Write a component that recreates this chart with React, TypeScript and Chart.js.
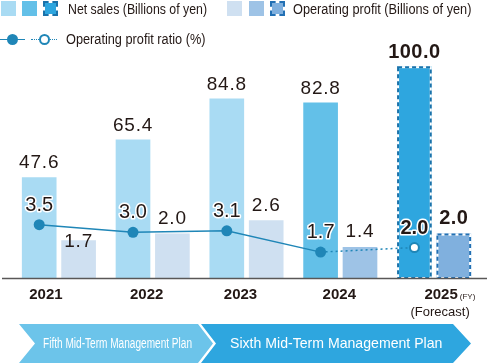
import React, { useEffect, useRef } from "react";
import { Chart, registerables } from "chart.js";

Chart.register(...registerables);

// ---- data ----
const years = ["2021", "2022", "2023", "2024", "2025"];
const netSales = [47.6, 65.4, 84.8, 82.8, 100.0];
const operatingProfit = [1.7, 2.0, 2.6, 1.4, 2.0];
const operatingProfitRatio = [3.5, 3.0, 3.1, 1.7, 2.0];
const forecastIndex = 4;
const legendLabels = [
  "Net sales (Billions of yen)",
  "Operating profit (Billions of yen)",
  "Operating profit ratio (%)",
];
const planLabels = ["Fifth Mid-Term Management Plan", "Sixth Mid-Term Management Plan"];
const fyNote = "(FY)";
const forecastNote = "(Forecast)";

// ---- style ----
const FONT = "'Liberation Sans', Arial, sans-serif";
const TEXT = "#231815";
const NET_COLORS = ["#a9dbf3", "#a9dbf3", "#a9dbf3", "#63c0e8", "#2ea6df"];
const OP_COLORS = ["#cfe0f1", "#cfe0f1", "#cfe0f1", "#9ec3e6", "#80b0de"];
const NET_DASH = "#1a72aa";
const OP_DASH = "#2270b4";
const LINE = "#1f86b7";
const CAT_PCT = 0.84;
const BAR_PCT = 0.88;
const X_LABEL_SHIFT = [-13, -6, -6, -1, 7];

const dashedBorder = (chart: any, dsIndex: number, color: string) => {
  const meta = chart.getDatasetMeta(dsIndex);
  const el = meta.data[forecastIndex];
  if (!el) return;
  const { x, y, base, width } = el.getProps(["x", "y", "base", "width"], true);
  const ctx = chart.ctx;
  const l = x - width / 2 + 1;
  const t = y + 1;
  const w = width - 2;
  const h = base - y - 1;
  ctx.save();
  ctx.lineWidth = 2;
  ctx.setLineDash([]);
  ctx.strokeStyle = "#ffffff";
  ctx.strokeRect(l, t, w, h);
  ctx.setLineDash([4, 3]);
  ctx.strokeStyle = color;
  ctx.strokeRect(l, t, w, h);
  ctx.restore();
};

const overlayPlugin = {
  id: "overlay",
  // the ratio points sit on the centre of each net-sales bar
  afterDatasetsUpdate(chart: any) {
    const netMeta = chart.getDatasetMeta(0);
    const lineMeta = chart.getDatasetMeta(2);
    lineMeta.data.forEach((pt: any, i: number) => {
      const bar = netMeta.data[i];
      if (bar) pt.x = bar.x;
    });
  },
  afterDatasetDraw(chart: any, args: any) {
    if (args.index === 0) dashedBorder(chart, 0, NET_DASH);
    if (args.index === 1) dashedBorder(chart, 1, OP_DASH);
  },
  afterDatasetsDraw(chart: any) {
    const ctx = chart.ctx;
    const area = chart.chartArea;
    const netMeta = chart.getDatasetMeta(0);
    const opMeta = chart.getDatasetMeta(1);
    const lineMeta = chart.getDatasetMeta(2);
    ctx.save();

    // axis line
    ctx.beginPath();
    ctx.strokeStyle = "#595757";
    ctx.lineWidth = 1.5;
    ctx.moveTo(area.left - 10, area.bottom + 0.5);
    ctx.lineTo(area.right + 6, area.bottom + 0.5);
    ctx.stroke();

    ctx.fillStyle = TEXT;
    ctx.textAlign = "center";
    ctx.textBaseline = "middle";

    // net sales labels
    netMeta.data.forEach((el: any, i: number) => {
      const f = i === forecastIndex;
      ctx.font = (f ? "bold 20px " : "19px ") + FONT;
      (ctx as any).letterSpacing = f ? "0.5px" : "0.8px";
      ctx.fillText(netSales[i].toFixed(1), el.x, el.y - 14);
    });
    // operating profit labels
    opMeta.data.forEach((el: any, i: number) => {
      const f = i === forecastIndex;
      ctx.font = (f ? "bold 20px " : "19px ") + FONT;
      (ctx as any).letterSpacing = f ? "0.5px" : "0.8px";
      const y = i === 0 ? el.y + 1 : el.y - 15;
      ctx.fillText(operatingProfit[i].toFixed(1), el.x, y);
    });
    // ratio labels
    lineMeta.data.forEach((el: any, i: number) => {
      const f = i === forecastIndex;
      ctx.font = (f ? "bold 20px " : "20px ") + FONT;
      (ctx as any).letterSpacing = "0px";
      const txt = operatingProfitRatio[i].toFixed(1);
      const y = el.y - 19.5;
      ctx.lineWidth = 3;
      ctx.lineJoin = "round";
      ctx.strokeStyle = "#ffffff";
      ctx.strokeText(txt, el.x, y);
      ctx.fillText(txt, el.x, y);
    });

    // x labels
    const xs = chart.scales.x;
    (ctx as any).letterSpacing = "0px";
    years.forEach((yr, i) => {
      const cx = xs.getPixelForValue(i) + X_LABEL_SHIFT[i];
      ctx.textAlign = "center";
      ctx.font = "bold 15px " + FONT;
      ctx.fillText(yr, cx, area.bottom + 17);
      if (i === forecastIndex) {
        const w = ctx.measureText(yr).width;
        ctx.textAlign = "left";
        ctx.font = "8px " + FONT;
        ctx.fillText(fyNote, cx + w / 2 + 2, area.bottom + 19);
        ctx.textAlign = "center";
        ctx.font = "13px " + FONT;
        ctx.fillText(forecastNote, cx - 1, area.bottom + 34);
      }
    });
    ctx.restore();
  },
};

export default function App() {
  const ref = useRef<HTMLCanvasElement>(null);

  useEffect(() => {
    const chart = new Chart(ref.current as HTMLCanvasElement, {
      type: "bar",
      data: {
        labels: years,
        datasets: [
          {
            type: "bar",
            label: legendLabels[0],
            data: netSales,
            backgroundColor: NET_COLORS,
            borderWidth: 0,
            yAxisID: "y",
            categoryPercentage: CAT_PCT,
            barPercentage: BAR_PCT,
            order: 1,
          } as any,
          {
            type: "bar",
            label: legendLabels[1],
            data: operatingProfit,
            backgroundColor: OP_COLORS,
            borderWidth: 0,
            yAxisID: "y2",
            categoryPercentage: CAT_PCT,
            barPercentage: BAR_PCT,
            order: 2,
          } as any,
          {
            type: "line",
            label: legendLabels[2],
            data: operatingProfitRatio,
            yAxisID: "y3",
            borderColor: LINE,
            borderWidth: 1.5,
            pointRadius: operatingProfitRatio.map((_, i) => (i === forecastIndex ? 4.5 : 5.5)),
            pointBorderWidth: operatingProfitRatio.map((_, i) => (i === forecastIndex ? 2 : 0)),
            pointBackgroundColor: operatingProfitRatio.map((_, i) => (i === forecastIndex ? "#ffffff" : LINE)),
            pointBorderColor: LINE,
            tension: 0,
            fill: false,
            segment: {
              borderDash: (c: any) => (c.p1DataIndex === forecastIndex ? [2, 3] : undefined),
            },
            order: 0,
          } as any,
        ],
      },
      options: {
        responsive: false,
        animation: false,
        devicePixelRatio: 1,
        events: [],
        layout: { padding: { left: 12, right: 7, top: 45, bottom: 85 } },
        plugins: { legend: { display: false }, tooltip: { enabled: false } },
        scales: {
          x: { type: "category", display: false, offset: true, grid: { display: false } },
          y: { type: "linear", display: false, min: 0, max: 110 },
          y2: { type: "linear", display: false, min: 0, max: 10.5 },
          y3: { type: "linear", display: false, min: 0, max: 15.3 },
        },
      } as any,
      plugins: [overlayPlugin],
    });
    return () => chart.destroy();
  }, []);

  const sq = (left: number, color: string, dashed?: string): React.CSSProperties => ({
    position: "absolute",
    left,
    top: 1,
    width: 15,
    height: 15,
    boxSizing: "border-box",
    background: color,
    backgroundClip: dashed ? "padding-box" : "border-box",
    border: dashed ? `2px dashed ${dashed}` : "none",
  });
  const label = (left: number, top: number, scale: number): React.CSSProperties => ({
    position: "absolute",
    left,
    top,
    fontSize: 14,
    lineHeight: "17px",
    whiteSpace: "nowrap",
    transform: `scaleX(${scale})`,
    transformOrigin: "left center",
    color: TEXT,
  });

  return (
    <div
      style={{
        position: "absolute",
        left: 0,
        top: 0,
        width: 488,
        height: 363,
        overflow: "hidden",
        background: "#ffffff",
        fontFamily: FONT,
      }}
    >
      <canvas ref={ref} width={488} height={363} style={{ position: "absolute", left: 0, top: 0, width: 488, height: 363 }} />

      {/* legend row 1 */}
      <div style={sq(1, NET_COLORS[0])} />
      <div style={sq(22, NET_COLORS[3])} />
      <div style={sq(43, NET_COLORS[4], NET_DASH)} />
      <span style={label(68, 1, 0.88)}>{legendLabels[0]}</span>
      <div style={sq(227, OP_COLORS[0])} />
      <div style={sq(249, OP_COLORS[3])} />
      <div style={sq(270, OP_COLORS[4], OP_DASH)} />
      <span style={label(293, 1, 0.91)}>{legendLabels[1]}</span>

      {/* legend row 2 */}
      <div style={{ position: "absolute", left: 0, top: 38.5, width: 25, height: 1.5, background: LINE }} />
      <div style={{ position: "absolute", left: 6.5, top: 33.7, width: 11, height: 11, borderRadius: "50%", background: LINE }} />
      <div style={{ position: "absolute", left: 31, top: 38.5, width: 26, height: 0, borderTop: `1.5px dotted ${LINE}` }} />
      <div
        style={{
          position: "absolute",
          left: 38.5,
          top: 33.7,
          width: 11,
          height: 11,
          boxSizing: "border-box",
          borderRadius: "50%",
          background: "#ffffff",
          border: `2px solid ${LINE}`,
        }}
      />
      <span style={label(66, 30.5, 0.91)}>{legendLabels[2]}</span>

      {/* plan banners */}
      <div
        style={{
          position: "absolute",
          left: 19,
          top: 324,
          width: 194,
          height: 39,
          background: "#6cc4ea",
          clipPath: "polygon(0 0, 179px 0, 194px 50%, 179px 100%, 0 100%, 16px 50%)",
        }}
      />
      <span
        style={{
          position: "absolute",
          left: 43,
          top: 334.5,
          fontSize: 14,
          lineHeight: "17px",
          color: "#ffffff",
          whiteSpace: "nowrap",
          transform: "scaleX(0.72)",
          transformOrigin: "left center",
        }}
      >
        {planLabels[0]}
      </span>
      <div
        style={{
          position: "absolute",
          left: 201,
          top: 324,
          width: 270,
          height: 39,
          background: "#2ea6df",
          clipPath: "polygon(0 0, 252px 0, 270px 50%, 252px 100%, 0 100%, 15px 50%)",
        }}
      />
      <span
        style={{
          position: "absolute",
          left: 230,
          top: 334,
          fontSize: 15,
          lineHeight: "18px",
          color: "#ffffff",
          whiteSpace: "nowrap",
          transform: "scaleX(0.94)",
          transformOrigin: "left center",
        }}
      >
        {planLabels[1]}
      </span>
    </div>
  );
}
